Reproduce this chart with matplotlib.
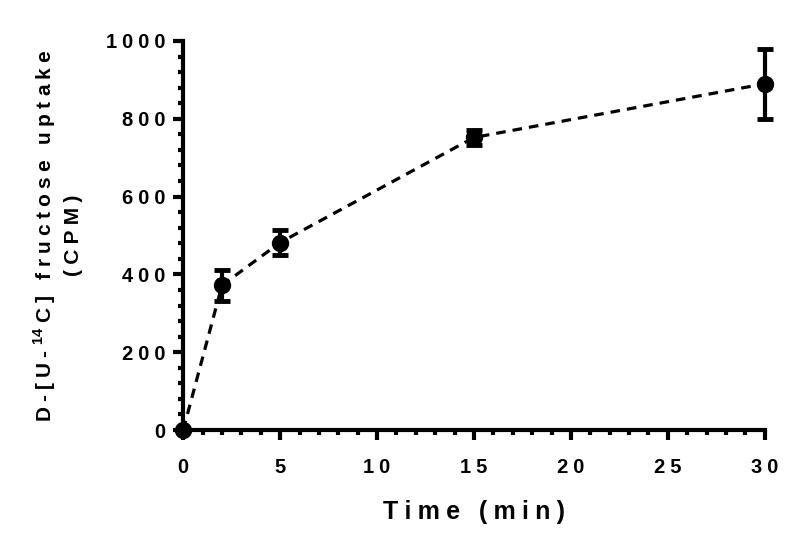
import matplotlib.pyplot as plt
from matplotlib.ticker import MultipleLocator, FuncFormatter

# uptake time course
time_min = [0, 2, 5, 15, 30]
uptake_cpm = [0, 372, 482, 752, 890]
uptake_err = [0, 40, 32, 20, 90]

xlabel = 'Time (min)'
ylabel_top = ('D-[U-', '14', 'C] fructose uptake')
ylabel_bottom = '(CPM)'

plt.rcParams['font.family'] = ['Liberation Sans', 'DejaVu Sans']
plt.rcParams['font.weight'] = 'bold'
plt.rcParams['mathtext.fontset'] = 'custom'
plt.rcParams['mathtext.bf'] = 'Liberation Sans:bold'
plt.rcParams['mathtext.rm'] = 'Liberation Sans:bold'

SP = '\u2005'  # Prism-like letter spacing


def spaced(s):
    return SP.join(s)


fig = plt.figure(figsize=(8, 5.38), dpi=100)
ax = fig.add_axes([0.229, 0.2007, 0.727, 0.7231])

ax.errorbar(time_min, uptake_cpm, yerr=uptake_err, color='black', fmt='o',
            markersize=11.5, elinewidth=3, capsize=6, capthick=3.5, clip_on=False, zorder=3)
ax.plot(time_min, uptake_cpm, color='black', linestyle=(0, (3, 2.2)), linewidth=2.3,
        clip_on=False, zorder=2)

ax.set_xlim(0, 30)
ax.set_ylim(0, 1000)
ax.xaxis.set_major_locator(MultipleLocator(5))
ax.xaxis.set_minor_locator(MultipleLocator(1))
ax.yaxis.set_major_locator(MultipleLocator(200))
ax.yaxis.set_minor_locator(MultipleLocator(40))
fmt = FuncFormatter(lambda v, p: spaced('%d' % v))
ax.xaxis.set_major_formatter(fmt)
ax.yaxis.set_major_formatter(fmt)

for side in ['top', 'right']:
    ax.spines[side].set_visible(False)
for side in ['left', 'bottom']:
    ax.spines[side].set_linewidth(3)

ax.tick_params(which='major', length=7, width=3, labelsize=14.5)
ax.tick_params(which='minor', length=3.5, width=3)
ax.tick_params(axis='x', which='major', pad=13)
ax.tick_params(axis='y', which='major', pad=6)

ax.set_xlabel(SP.join(xlabel.replace(' ', SP)), fontsize=18, fontweight='bold', labelpad=17)
ylab = (spaced(ylabel_top[0]) + SP + '$^{\\mathbf{' + ylabel_top[1] + '}}$' + SP
        + spaced(ylabel_top[2]) + '\n' + spaced(ylabel_bottom))
ax.set_ylabel(ylab, fontsize=15, fontweight='bold', labelpad=16, linespacing=1.45)

fig.savefig('out.png', dpi=100)
